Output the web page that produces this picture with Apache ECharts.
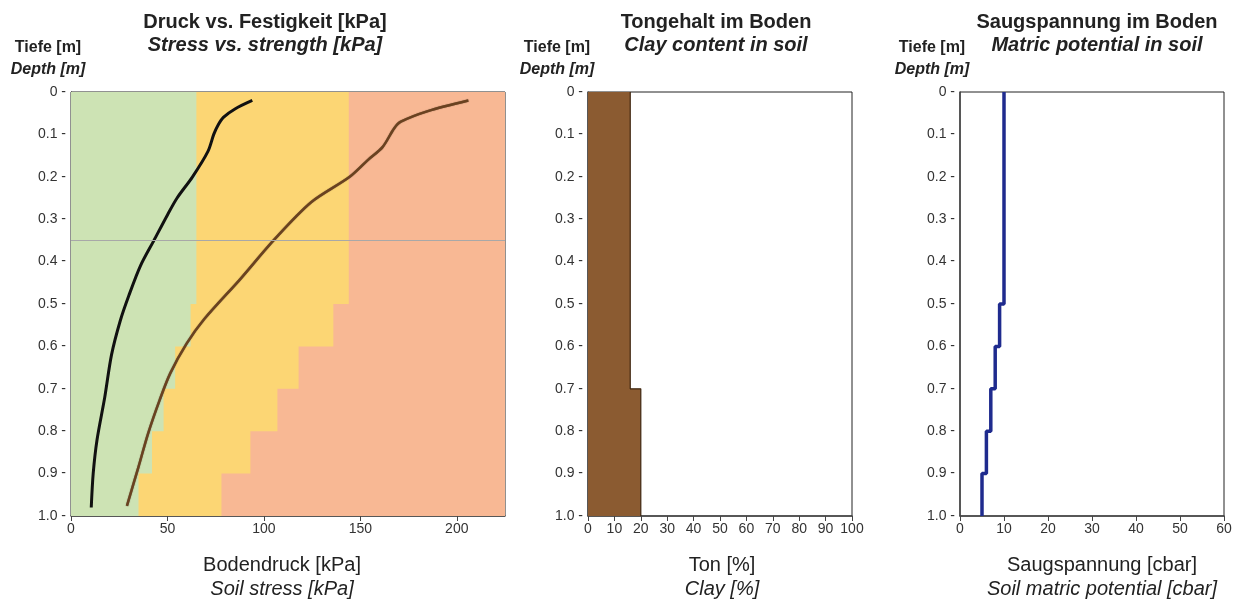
<!DOCTYPE html>
<html>
<head>
<meta charset="utf-8">
<script src="https://cdn.jsdelivr.net/npm/echarts@6/dist/echarts.min.js"></script>
<style>
html,body{margin:0;padding:0;background:#fff;}
#chart{width:1239px;height:601px;}
</style>
</head>
<body>
<div id="chart"></div>
<script>
// ---------- DATA ----------
// Depth bands for strength zones (m)
const bandTop    = [0.0, 0.5, 0.6, 0.7, 0.8, 0.9];
const bandBottom = [0.5, 0.6, 0.7, 0.8, 0.9, 1.0];
// Upper limit of green zone (kPa) per band
const greenLimit  = [65, 62, 54, 48, 42, 35];
// Upper limit of yellow zone (kPa) per band
const yellowLimit = [144, 136, 118, 107, 93, 78];
const stressMax = 225;

// Soil stress curve (black)
const stressDepth = [0.02, 0.04, 0.06, 0.08, 0.10, 0.14, 0.20, 0.25, 0.29, 0.35, 0.41, 0.48, 0.54, 0.62, 0.72, 0.82, 0.90, 0.98];
const stressKPa   = [94, 85, 79, 76, 74, 71, 63, 55, 50, 43, 36, 30, 25.5, 21, 17.5, 13.5, 11.5, 10.5];

// Soil strength curve (brown)
const strengthDepth = [0.02, 0.045, 0.07, 0.086, 0.13, 0.16, 0.20, 0.26, 0.35, 0.44, 0.536, 0.593, 0.663, 0.726, 0.805, 0.884, 0.976];
const strengthKPa   = [206, 185, 171, 167.5, 161.5, 154, 144.5, 124.5, 105, 88, 69, 60, 51.5, 46, 40, 35, 29];

const markerDepth = 0.35;

// Clay content
const clayTop    = [0.0, 0.7];
const clayBottom = [0.7, 1.0];
const clayPct    = [16, 20];

// Matric potential
const suctionTop    = [0.0, 0.5, 0.6, 0.7, 0.8, 0.9];
const suctionBottom = [0.5, 0.6, 0.7, 0.8, 0.9, 1.0];
const suctionCbar   = [10, 9, 8, 7, 6, 5];

// Tick label lists
const stressTicks  = [0, 50, 100, 150, 200];
const clayTicks    = [0, 10, 20, 30, 40, 50, 60, 70, 80, 90, 100];
const suctionTicks = [0, 10, 20, 30, 40, 50, 60];

// ---------- BUILD ----------
const FONT = "'Liberation Sans', Arial, sans-serif";
const chart = echarts.init(document.getElementById('chart'), null, {renderer: 'canvas'});

// step-outline polygon (in data space) from band tops/bottoms and right limits
function stepPolygon(tops, bottoms, limits) {
  const pts = [[0, tops[0]]];
  limits.forEach((v, i) => { pts.push([v, tops[i]]); pts.push([v, bottoms[i]]); });
  pts.push([0, bottoms[bottoms.length - 1]]);
  return pts;
}
const zonePolys = [
  stepPolygon([0], [1], [stressMax]),
  stepPolygon(bandTop, bandBottom, yellowLimit),
  stepPolygon(bandTop, bandBottom, greenLimit)
];
const zoneColors = ['#f8b894', '#fcd674', '#cde3b4'];

const polyRender = (polys, colors) => function (params, api) {
  const idx = api.value(0);
  const pts = polys[idx].map(p => api.coord(p));
  return {type: 'polygon', shape: {points: pts}, style: {fill: colors[idx]}};
};

const clayPoly = [stepPolygon(clayTop, clayBottom, clayPct)];
const clayEdge = [];
clayPct.forEach((v, i) => { clayEdge.push([v, clayTop[i]]); clayEdge.push([v, clayBottom[i]]); });
const suctionLine = [];
suctionCbar.forEach((v, i) => { suctionLine.push([v, suctionTop[i]]); suctionLine.push([v, suctionBottom[i]]); });

const depthFmt = v => (v === 0 ? '0' : v.toFixed(1)) + ' -';

function yAxisFor(gi, lineColor, lineWidth) {
  return {
    gridIndex: gi, type: 'value', inverse: true, min: 0, max: 1, interval: 0.1,
    axisLine: {show: true, lineStyle: {color: lineColor, width: lineWidth}},
    axisTick: {show: false},
    splitLine: {show: false},
    axisLabel: {formatter: depthFmt, margin: 5, fontFamily: FONT, fontSize: 14, color: '#333'}
  };
}
function xAxisFor(gi, max, ticks, interval) {
  return {
    gridIndex: gi, type: 'value', min: 0, max: max, interval: interval,
    axisLine: {show: true, onZero: false, lineStyle: {color: '#444', width: 1.5}},
    axisTick: {show: true, length: 5, lineStyle: {color: '#444'}, customValues: ticks},
    splitLine: {show: false},
    axisLabel: {margin: 6, fontFamily: FONT, fontSize: 14, color: '#333', customValues: ticks}
  };
}

function txt(x, y, text, size, bold, italic) {
  return {
    type: 'text', x: x, y: y, silent: true,
    style: {
      text: text, x: 0, y: 0, align: 'center', verticalAlign: 'middle',
      fontFamily: FONT, fontSize: size, fontWeight: bold ? 'bold' : 'normal',
      fontStyle: italic ? 'italic' : 'normal', fill: '#222'
    }
  };
}

const option = {
  backgroundColor: '#fff',
  animation: false,
  grid: [
    {left: 71, top: 92, width: 434, height: 424, show: true, borderColor: '#222', borderWidth: 1},
    {left: 588, top: 92, width: 264, height: 424, show: true, borderColor: '#222', borderWidth: 1},
    {left: 960, top: 92, width: 264, height: 424, show: true, borderColor: '#222', borderWidth: 1}
  ],
  xAxis: [
    xAxisFor(0, stressMax, stressTicks, 25),
    xAxisFor(1, 100, clayTicks, 10),
    xAxisFor(2, 60, suctionTicks, 10)
  ],
  yAxis: [yAxisFor(0, '#222', 1), yAxisFor(1, '#444', 1.5), yAxisFor(2, '#444', 1.5)],
  series: [
    {
      type: 'custom', xAxisIndex: 0, yAxisIndex: 0, clip: true, silent: true,
      renderItem: polyRender(zonePolys, zoneColors),
      data: [[0], [1], [2]], z: 1
    },
    {
      type: 'line', xAxisIndex: 0, yAxisIndex: 0, smooth: 0.3, showSymbol: false, z: 3,
      lineStyle: {color: '#6a4220', width: 2.5, shadowColor: 'rgba(40,20,0,0.6)', shadowBlur: 1},
      data: strengthKPa.map((v, i) => [v, strengthDepth[i]])
    },
    {
      type: 'line', xAxisIndex: 0, yAxisIndex: 0, smooth: 0.3, showSymbol: false, z: 4,
      lineStyle: {color: '#111', width: 3},
      data: stressKPa.map((v, i) => [v, stressDepth[i]]),
      markLine: {
        silent: true, symbol: 'none', label: {show: false},
        lineStyle: {color: '#a8a8a8', width: 1, type: 'solid'},
        data: [{yAxis: markerDepth}]
      }
    },
    {
      type: 'custom', xAxisIndex: 1, yAxisIndex: 1, clip: true, silent: true,
      renderItem: polyRender(clayPoly, ['#8b5b31']),
      data: [[0]], z: 1
    },
    {
      type: 'line', xAxisIndex: 1, yAxisIndex: 1, showSymbol: false, z: 3,
      lineStyle: {color: '#3e2610', width: 1.2},
      data: clayEdge
    },
    {
      type: 'line', xAxisIndex: 2, yAxisIndex: 2, showSymbol: false, z: 3,
      lineStyle: {color: '#1f2b8e', width: 3.5},
      data: suctionLine
    }
  ],
  graphic: [
    txt(265, 22, 'Druck vs. Festigkeit [kPa]', 20, true, false),
    txt(265, 45, 'Stress vs. strength [kPa]', 20, true, true),
    txt(48, 48, 'Tiefe [m]', 16, true, false),
    txt(48, 70, 'Depth [m]', 16, true, true),
    txt(282, 565, 'Bodendruck [kPa]', 20, false, false),
    txt(282, 589, 'Soil stress [kPa]', 20, false, true),

    txt(716, 22, 'Tongehalt im Boden', 20, true, false),
    txt(716, 45, 'Clay content in soil', 20, true, true),
    txt(557, 48, 'Tiefe [m]', 16, true, false),
    txt(557, 70, 'Depth [m]', 16, true, true),
    txt(722, 565, 'Ton [%]', 20, false, false),
    txt(722, 589, 'Clay [%]', 20, false, true),

    txt(1097, 22, 'Saugspannung im Boden', 20, true, false),
    txt(1097, 45, 'Matric potential in soil', 20, true, true),
    txt(932, 48, 'Tiefe [m]', 16, true, false),
    txt(932, 70, 'Depth [m]', 16, true, true),
    txt(1102, 565, 'Saugspannung [cbar]', 20, false, false),
    txt(1102, 589, 'Soil matric potential [cbar]', 20, false, true)
  ]
};
chart.setOption(option);
</script>
</body>
</html>
